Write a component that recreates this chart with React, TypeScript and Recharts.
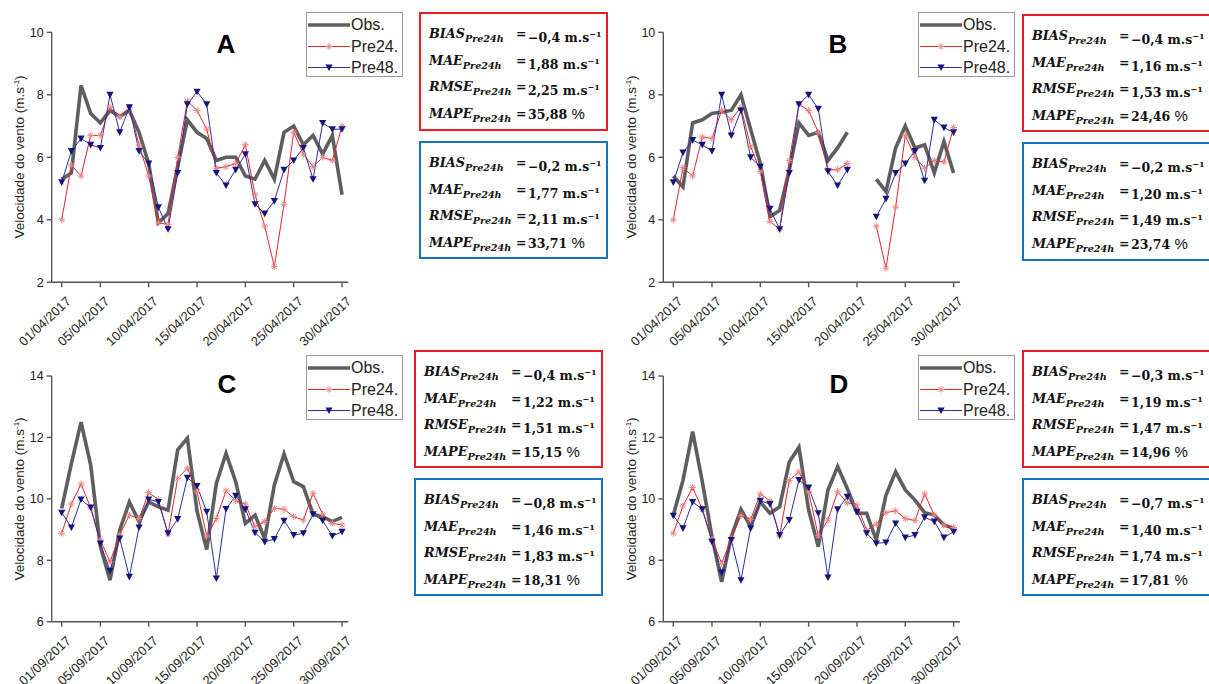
import React from "react";
import { LineChart, Line, XAxis, YAxis } from "recharts";

// day of month for every sample
const days = [1, 2, 3, 4, 5, 6, 7, 8, 9, 10, 11, 12, 13, 14, 15, 16, 17, 18, 19, 20, 21, 22, 23, 24, 25, 26, 27, 28, 29, 30];
const tickDays = [1, 5, 10, 15, 20, 25, 30];
const aprilLabels = ["01/04/2017", "05/04/2017", "10/04/2017", "15/04/2017", "20/04/2017", "25/04/2017", "30/04/2017"];
const septLabels = ["01/09/2017", "05/09/2017", "10/09/2017", "15/09/2017", "20/09/2017", "25/09/2017", "30/09/2017"];

// April 2017 - station A
const obsA = [5.3, 5.5, 8.3, 7.4, 7.1, 7.5, 7.3, 7.5, 6.8, 5.8, 3.9, 4.2, 5.7, 7.2, 6.8, 6.6, 5.9, 6.0, 6.0, 5.4, 5.3, 5.9, 5.3, 6.8, 7.0, 6.4, 6.7, 6.1, 6.7, 4.8];
const pre24A = [4.0, 5.75, 5.4, 6.7, 6.7, 7.6, 7.3, 7.6, 6.4, 5.4, 3.9, 3.85, 6.0, 7.8, 7.5, 6.9, 5.65, 5.7, 5.8, 6.4, 4.8, 3.8, 2.5, 4.5, 6.8, 6.1, 5.7, 6.0, 5.9, 7.0];
const pre48A = [5.2, 6.2, 6.6, 6.4, 6.3, 8.0, 6.8, 7.6, 6.2, 5.8, 4.4, 3.7, 5.5, 7.7, 8.1, 7.7, 5.5, 5.1, 5.6, 6.1, 4.5, 4.2, 4.6, 5.6, 5.9, 6.3, 5.3, 7.1, 6.9, 6.9];

// April 2017 - station B (no data on 20 and 21)
const obsB = [5.4, 5.05, 7.1, 7.2, 7.4, 7.45, 7.5, 8.0, 6.9, 5.8, 4.1, 4.3, 5.6, 7.1, 6.7, 6.8, 5.9, 6.3, 6.8, null, null, 5.3, 4.9, 6.3, 7.0, 6.3, 6.4, 5.5, 6.5, 5.5];
const pre24B = [4.0, 5.67, 5.4, 6.65, 6.6, 7.5, 7.2, 7.6, 6.35, 5.55, 3.95, 3.7, 5.9, 7.7, 7.5, 6.8, 5.6, 5.6, 5.8, null, null, 3.8, 2.45, 4.4, 6.7, 6.0, 5.65, 5.9, 5.85, 6.95];
const pre48B = [5.2, 6.15, 6.55, 6.4, 6.2, 8.0, 6.7, 7.5, 6.0, 5.7, 4.35, 3.7, 5.5, 7.7, 8.0, 7.55, 5.55, 5.1, 5.6, null, null, 4.1, 4.67, 5.5, 5.8, 6.2, 5.25, 7.2, 6.95, 6.8];

// September 2017 - station C
const obsC = [9.69, 11.15, 12.5, 11.1, 8.44, 7.35, 8.98, 9.9, 9.26, 9.9, 9.74, 9.63, 11.6, 11.97, 9.6, 8.35, 10.5, 11.48, 10.56, 9.2, 9.47, 8.7, 10.45, 11.46, 10.56, 10.4, 9.5, 9.42, 9.26, 9.4];
const pre24C = [8.88, 9.83, 10.48, 9.71, 8.66, 7.95, 8.82, 9.47, 9.36, 10.2, 9.98, 8.85, 10.67, 11.0, 10.23, 8.79, 9.36, 10.26, 9.94, 9.83, 9.09, 9.26, 9.69, 9.66, 9.42, 9.31, 10.18, 9.5, 9.2, 9.15];
const pre48C = [9.55, 9.07, 9.98, 9.72, 8.55, 7.66, 8.71, 7.46, 9.07, 9.98, 9.9, 8.88, 9.34, 10.69, 10.42, 9.58, 7.41, 9.67, 10.1, 9.66, 8.9, 8.6, 8.69, 9.29, 8.82, 8.88, 9.5, 9.29, 8.79, 8.93];

// September 2017 - station D
const obsD = [9.47, 10.6, 12.19, 10.56, 8.77, 7.3, 8.77, 9.66, 9.09, 9.9, 9.53, 9.74, 11.2, 11.68, 9.64, 8.44, 10.29, 11.05, 10.34, 9.53, 9.53, 8.66, 10.12, 10.88, 10.29, 9.96, 9.55, 9.47, 9.15, 9.04];
const pre24D = [8.88, 9.77, 10.37, 9.66, 8.68, 7.9, 8.71, 9.45, 9.33, 10.16, 9.94, 8.79, 10.6, 10.88, 10.23, 8.8, 9.31, 10.23, 9.87, 9.8, 8.98, 9.18, 9.55, 9.61, 9.36, 9.29, 10.16, 9.47, 9.15, 9.07];
const pre48D = [9.45, 9.04, 9.9, 9.66, 8.6, 7.6, 8.66, 7.35, 9.04, 9.94, 9.83, 8.82, 9.31, 10.61, 10.37, 9.53, 7.44, 9.66, 10.07, 9.58, 8.88, 8.55, 8.58, 9.2, 8.74, 8.82, 9.4, 9.26, 8.74, 8.93];

// error statistics: BIAS, MAE, RMSE, MAPE
const metricNames = ["BIAS", "MAE", "RMSE", "MAPE"];
const statsA24 = ["−0,4", "1,88", "2,25", "35,88"];
const statsA48 = ["−0,2", "1,77", "2,11", "33,71"];
const statsB24 = ["−0,4", "1,16", "1,53", "24,46"];
const statsB48 = ["−0,2", "1,20", "1,49", "23,74"];
const statsC24 = ["−0,4", "1,22", "1,51", "15,15"];
const statsC48 = ["−0,8", "1,46", "1,83", "18,31"];
const statsD24 = ["−0,3", "1,19", "1,47", "14,96"];
const statsD48 = ["−0,7", "1,40", "1,74", "17,81"];

const yTicksApr = [2, 4, 6, 8, 10];
const yTicksSep = [6, 8, 10, 12, 14];

const SANS = "'Liberation Sans', Arial, sans-serif";
const SERIF = "'DejaVu Serif', 'Liberation Serif', serif";
const OBS_COLOR = "#5e5e5e";
const P24_COLOR = "#e3262b";
const P24_MARK = "#f08585";
const P48_COLOR = "#2d2fa3";
const P48_MARK = "#14147a";
const AXIS = "#555";

const StarDot = (props: any) => {
  const { cx, cy } = props;
  if (cx == null || cy == null || props.value == null) return <g />;
  const r = 3.4;
  const d = r * 0.707;
  return (
    <g stroke={P24_MARK} strokeWidth={1}>
      <line x1={cx - r} y1={cy} x2={cx + r} y2={cy} />
      <line x1={cx} y1={cy - r} x2={cx} y2={cy + r} />
      <line x1={cx - d} y1={cy - d} x2={cx + d} y2={cy + d} />
      <line x1={cx - d} y1={cy + d} x2={cx + d} y2={cy - d} />
    </g>
  );
};

const TriDot = (props: any) => {
  const { cx, cy } = props;
  if (cx == null || cy == null || props.value == null) return <g />;
  return <polygon points={`${cx - 3.6},${cy - 3} ${cx + 3.6},${cy - 3} ${cx},${cy + 3.6}`} fill={P48_MARK} />;
};

const DateTick = (props: any) => {
  const { x, y, payload, labels } = props;
  const i = tickDays.indexOf(payload.value);
  return (
    <g transform={`translate(${x + 10},${y + 13})`}>
      <text textAnchor="end" transform="rotate(-43)" fontSize={13} fill="#222" fontFamily={SANS}>
        {labels[i]}
      </text>
    </g>
  );
};

type PanelProps = {
  left: number;
  top: number;
  width: number;
  height: number;
  axisLeft: number;
  plotTop: number;
  plotBottom: number;
  obs: (number | null)[];
  pre24: (number | null)[];
  pre48: (number | null)[];
  yTicks: number[];
  labels: string[];
};

const PLOT_W = 296.6;

function Panel(p: PanelProps) {
  const data = days.map((d, i) => ({ day: d, obs: p.obs[i], pre24: p.pre24[i], pre48: p.pre48[i] }));
  return (
    <div style={{ position: "absolute", left: p.left, top: p.top }}>
      <LineChart
        width={p.width}
        height={p.height}
        data={data}
        margin={{ top: p.plotTop, right: p.width - p.axisLeft - PLOT_W, bottom: 0, left: 0 }}
      >
        <XAxis
          type="number"
          dataKey="day"
          domain={[-0.035, 30.65]}
          ticks={tickDays}
          interval={0}
          height={p.height - p.plotBottom}
          stroke={AXIS}
          strokeWidth={1.4}
          tickSize={5}
          tick={<DateTick labels={p.labels} />}
        />
        <YAxis
          domain={[p.yTicks[0], p.yTicks[p.yTicks.length - 1]]}
          ticks={p.yTicks}
          interval={0}
          width={p.axisLeft}
          stroke={AXIS}
          strokeWidth={1.4}
          tickSize={5}
          tickMargin={3}
          tick={{ fill: "#222", fontSize: 12.5, fontFamily: SANS }}
        />
        <Line dataKey="obs" stroke={OBS_COLOR} strokeWidth={3.6} dot={false} isAnimationActive={false} />
        <Line dataKey="pre24" stroke={P24_COLOR} strokeWidth={1} dot={<StarDot />} isAnimationActive={false} />
        <Line dataKey="pre48" stroke={P48_COLOR} strokeWidth={1} dot={<TriDot />} isAnimationActive={false} />
      </LineChart>
    </div>
  );
}

function YLabel({ x, y }: { x: number; y: number }) {
  return (
    <div
      style={{
        position: "absolute",
        left: x,
        top: y,
        transform: "translate(-50%, -50%) rotate(-90deg)",
        whiteSpace: "nowrap",
        fontFamily: SANS,
        fontSize: 13.5,
        color: "#222",
      }}
    >
      Velocidade do vento (m.s<sup style={{ fontSize: 8, verticalAlign: 5 }}>-1</sup>)
    </div>
  );
}

function Title({ x, y, text }: { x: number; y: number; text: string }) {
  return (
    <div
      style={{
        position: "absolute",
        left: x,
        top: y,
        transform: "translate(-50%, -50%)",
        fontFamily: SANS,
        fontWeight: 700,
        fontSize: 26,
        color: "#000",
        lineHeight: 1,
      }}
    >
      {text}
    </div>
  );
}

const legendItems = ["Obs.", "Pre24.", "Pre48."];

function Legend({ x, y }: { x: number; y: number }) {
  const rows = [12, 33.5, 54.5];
  return (
    <div
      style={{
        position: "absolute",
        left: x,
        top: y,
        width: 97,
        height: 65,
        boxSizing: "border-box",
        border: "1px solid #9a9a9a",
        background: "#fff",
      }}
    >
      <svg width={44} height={63} style={{ position: "absolute", left: 0, top: 0 }}>
        <line x1={1} x2={43} y1={rows[0]} y2={rows[0]} stroke={OBS_COLOR} strokeWidth={3.6} />
        <line x1={1} x2={43} y1={rows[1]} y2={rows[1]} stroke={P24_COLOR} strokeWidth={1} />
        <StarDot cx={22} cy={rows[1]} value={1} />
        <line x1={1} x2={43} y1={rows[2]} y2={rows[2]} stroke={P48_COLOR} strokeWidth={1} />
        <TriDot cx={22} cy={rows[2]} value={1} />
      </svg>
      {legendItems.map((t, i) => (
        <div
          key={t}
          style={{
            position: "absolute",
            left: 44,
            top: rows[i] - 10,
            height: 20,
            lineHeight: "20px",
            fontFamily: SANS,
            fontSize: 16,
            color: "#222",
          }}
        >
          {t}
        </div>
      ))}
    </div>
  );
}

const rowText = {
  position: "absolute" as const,
  height: 22,
  lineHeight: "22px",
  whiteSpace: "nowrap" as const,
  fontFamily: SERIF,
  fontWeight: 700,
  color: "#111",
};

function StatBox({ x, y, h, color, values }: { x: number; y: number; h: number; color: string; values: string[] }) {
  const rows = [20, 46.7, 73.4, 100.4];
  return (
    <div
      style={{
        position: "absolute",
        left: x,
        top: y,
        width: 189,
        height: h,
        boxSizing: "border-box",
        border: `2px solid ${color}`,
        background: "#fff",
      }}
    >
      {metricNames.map((m, i) => (
        <React.Fragment key={m}>
          <div style={{ ...rowText, left: 8, top: rows[i] - 11, fontStyle: "italic", fontSize: 12.8 }}>
            {m}
            <span style={{ fontSize: 9.6, verticalAlign: -4 }}>Pre24h</span>
          </div>
          <div style={{ ...rowText, left: 95, top: rows[i] - 11, fontSize: 12.5 }}>=</div>
          <div style={{ ...rowText, left: 107, top: rows[i] - 11, fontSize: 12.5 }}>
            {values[i]}{" "}
            {i < 3 ? (
              <>
                m.s<sup style={{ fontSize: 8, verticalAlign: 5 }}>−1</sup>
              </>
            ) : (
              <span style={{ fontFamily: SANS, fontWeight: 400, fontSize: 15 }}>%</span>
            )}
          </div>
        </React.Fragment>
      ))}
    </div>
  );
}

const RED = "#ee1c25";
const BLUE = "#1475c3";

export default function App() {
  return (
    <div
      style={{
        position: "absolute",
        left: 0,
        top: 0,
        width: 1209,
        height: 684,
        overflow: "hidden",
        background: "#fff",
      }}
    >
      <Panel left={0} top={0} width={360} height={360} axisLeft={51.7} plotTop={32.3} plotBottom={282.3}
        obs={obsA} pre24={pre24A} pre48={pre48A} yTicks={yTicksApr} labels={aprilLabels} />
      <Panel left={600} top={0} width={370} height={360} axisLeft={63.3} plotTop={32.3} plotBottom={282.3}
        obs={obsB} pre24={pre24B} pre48={pre48B} yTicks={yTicksApr} labels={aprilLabels} />
      <Panel left={0} top={340} width={360} height={370} axisLeft={51.7} plotTop={36} plotBottom={281.7}
        obs={obsC} pre24={pre24C} pre48={pre48C} yTicks={yTicksSep} labels={septLabels} />
      <Panel left={600} top={340} width={370} height={370} axisLeft={63.3} plotTop={36} plotBottom={281.7}
        obs={obsD} pre24={pre24D} pre48={pre48D} yTicks={yTicksSep} labels={septLabels} />

      <YLabel x={19} y={157.3} />
      <YLabel x={631} y={157.3} />
      <YLabel x={19} y={499} />
      <YLabel x={631} y={499} />

      <Title x={226} y={44} text="A" />
      <Title x={838} y={44} text="B" />
      <Title x={227} y={384} text="C" />
      <Title x={839} y={384} text="D" />

      <Legend x={306} y={12} />
      <Legend x={918} y={12} />
      <Legend x={306} y={355} />
      <Legend x={918} y={355} />

      <StatBox x={419} y={12} h={119} color={RED} values={statsA24} />
      <StatBox x={419} y={141} h={118} color={BLUE} values={statsA48} />
      <StatBox x={1022} y={14} h={118} color={RED} values={statsB24} />
      <StatBox x={1022} y={142} h={119} color={BLUE} values={statsB48} />
      <StatBox x={414} y={350} h={118} color={RED} values={statsC24} />
      <StatBox x={414} y={478} h={118} color={BLUE} values={statsC48} />
      <StatBox x={1022} y={350} h={118} color={RED} values={statsD24} />
      <StatBox x={1022} y={478} h={118} color={BLUE} values={statsD48} />
    </div>
  );
}
